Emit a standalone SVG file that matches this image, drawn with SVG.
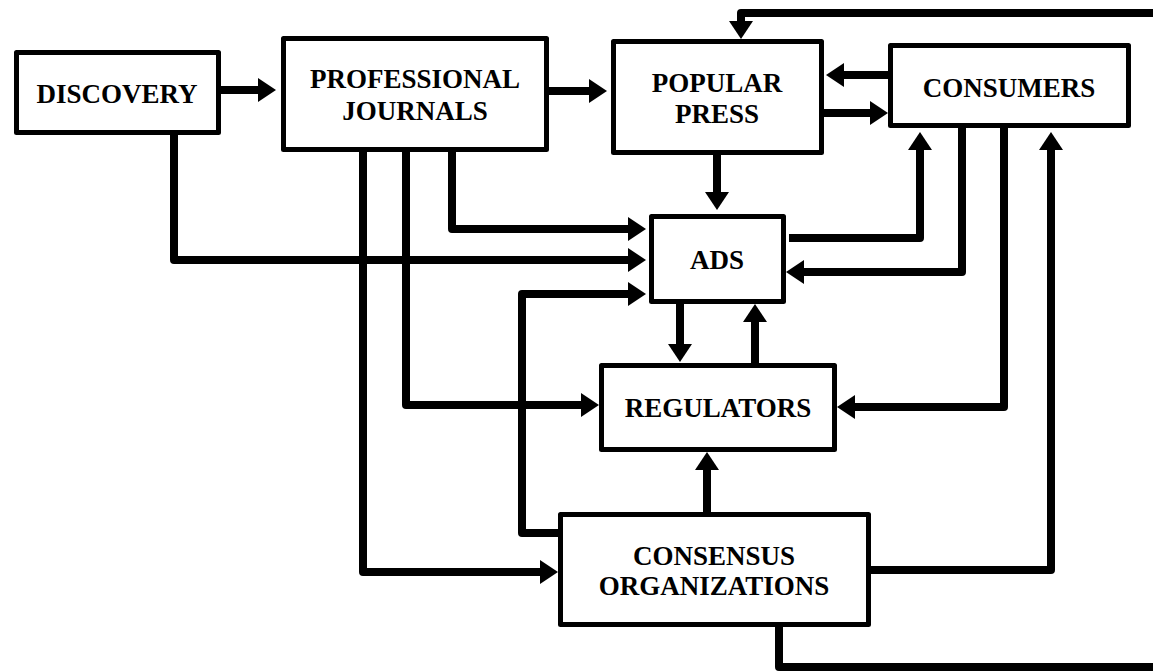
<svg xmlns="http://www.w3.org/2000/svg" width="1153" height="672" viewBox="0 0 1153 672">
<style>
.box{fill:#fff;stroke:#000;stroke-width:5;stroke-linejoin:round}
.lbl{font-family:"Liberation Serif","Times New Roman",serif;font-weight:bold;font-size:27px;fill:#000;text-anchor:middle}
.c{fill:none;stroke:#000;stroke-width:8;stroke-linejoin:round;marker-end:url(#ah)}
</style>
<defs>
<marker id="ah" viewBox="0 0 18 24" refX="1" refY="12" markerWidth="18" markerHeight="24" markerUnits="userSpaceOnUse" orient="auto">
<path d="M0,0 L18,12 L0,24 z" fill="#000"/>
</marker>
</defs>
<rect width="1153" height="672" fill="#fff"/>
<g id="connectors">
<path class="c" d="M221,90 H259"/>
<path class="c" d="M549,91 H590"/>
<path class="c" d="M779,627 V667 H1170 V13 H741 V22"/>
<path class="c" d="M888,75 H843"/>
<path class="c" d="M824,113 H871"/>
<path class="c" d="M717,155 V193"/>
<path class="c" d="M452,152 V229 H629"/>
<path class="c" d="M174,135 V260 H629"/>
<path class="c" d="M558,533 H522 V294 H629"/>
<path class="c" d="M789,238 H920 V149"/>
<path class="c" d="M962,128 V272 H803"/>
<path class="c" d="M1004,128 V407 H854"/>
<path class="c" d="M871,570 H1051 V149"/>
<path class="c" d="M680,304 V345"/>
<path class="c" d="M755,363 V321"/>
<path class="c" d="M406,152 V405 H582"/>
<path class="c" d="M707,512 V469"/>
<path class="c" d="M363,152 V572 H541"/>
</g>
<g id="discovery">
<rect class="box" x="16.5" y="52.5" width="202" height="80"/>
<text class="lbl" x="117" y="103">DISCOVERY</text>
</g>
<g id="professional-journals">
<rect class="box" x="283.5" y="38.5" width="263" height="111"/>
<text class="lbl" x="415" y="88">PROFESSIONAL</text>
<text class="lbl" x="415" y="120">JOURNALS</text>
</g>
<g id="popular-press">
<rect class="box" x="613.5" y="41.5" width="208" height="111"/>
<text class="lbl" x="717" y="92">POPULAR</text>
<text class="lbl" x="717" y="123">PRESS</text>
</g>
<g id="consumers">
<rect class="box" x="890.5" y="45.5" width="238" height="80"/>
<text class="lbl" x="1009" y="97">CONSUMERS</text>
</g>
<g id="ads">
<rect class="box" x="651.5" y="216.5" width="132" height="85"/>
<text class="lbl" x="717" y="269">ADS</text>
</g>
<g id="regulators">
<rect class="box" x="601.5" y="365.5" width="233" height="84"/>
<text class="lbl" x="718" y="417">REGULATORS</text>
</g>
<g id="consensus-organizations">
<rect class="box" x="560.5" y="514.5" width="308" height="110"/>
<text class="lbl" x="714" y="565">CONSENSUS</text>
<text class="lbl" x="714" y="595">ORGANIZATIONS</text>
</g>
</svg>
